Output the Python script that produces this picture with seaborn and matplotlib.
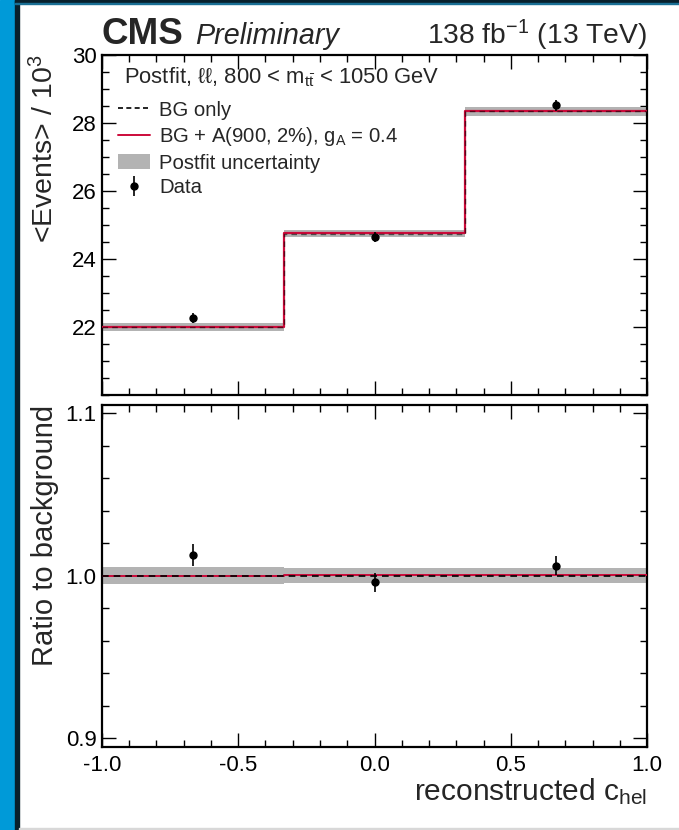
import numpy as np
import matplotlib
matplotlib.use("Agg")
import matplotlib.pyplot as plt
from matplotlib.patches import Patch, Rectangle
from matplotlib.lines import Line2D
from matplotlib.ticker import MultipleLocator, FixedLocator, FormatStrFormatter
import seaborn as sns

# ---- data (events in units of 10^3) ----
bin_edges = [-1.0, -1.0 / 3.0, 1.0 / 3.0, 1.0]
bin_centers = [-2.0 / 3.0, 0.0, 2.0 / 3.0]
bg_only = [22.00, 24.75, 28.35]
bg_plus_signal = [22.00, 24.76, 28.36]
bg_unc = [0.11, 0.11, 0.13]
data_vals = [22.275, 24.65, 28.52]
data_err = [0.15, 0.15, 0.17]

ratio_data = [1.0125, 0.9959, 1.0062]
ratio_err = [0.0067, 0.0060, 0.0060]
ratio_unc = [0.0051, 0.0045, 0.0045]
ratio_signal = [1.0000, 1.0004, 1.0004]

top_yticks = [22, 24, 26, 28, 30]

sns.set_theme(style="ticks")
plt.rcParams["font.family"] = ["Liberation Sans", "DejaVu Sans"]
plt.rcParams["mathtext.fontset"] = "custom"
plt.rcParams["mathtext.rm"] = "Liberation Sans"
plt.rcParams["mathtext.it"] = "Liberation Sans:italic"
plt.rcParams["mathtext.bf"] = "Liberation Sans:bold"

RED = "#cc0a3a"
GREY = "#b3b3b3"

fig = plt.figure(figsize=(6.79, 8.30), dpi=100)
ax_top = fig.add_axes([0.1502, 0.5241, 0.8027, 0.4096])
ax_rat = fig.add_axes([0.1502, 0.1000, 0.8027, 0.4120])


def extend(vals):
    return list(vals) + [vals[-1]]


def step(ax, vals, **kw):
    sns.lineplot(x=bin_edges, y=extend(vals), ax=ax, drawstyle="steps-post",
                 estimator=None, sort=False, **kw)


# ---- main panel ----
lo = [v - u for v, u in zip(bg_only, bg_unc)]
hi = [v + u for v, u in zip(bg_only, bg_unc)]
ax_top.fill_between(bin_edges, extend(lo), extend(hi), step="post",
                    color=GREY, lw=0, zorder=1)
step(ax_top, bg_plus_signal, color=RED, lw=1.6, zorder=3)
step(ax_top, bg_only, color="black", lw=1.0, ls=(0, (4, 3)), alpha=0.55, zorder=4)
ax_top.errorbar(bin_centers, data_vals, yerr=data_err, fmt="o", color="black",
                ms=5, elinewidth=1.2, capsize=0, zorder=5)

ax_top.set_xlim(-1, 1)
ax_top.set_ylim(20, 30)
ax_top.yaxis.set_major_locator(FixedLocator(top_yticks))
ax_top.yaxis.set_minor_locator(MultipleLocator(0.5))
ax_top.tick_params(labelbottom=False)
ax_top.set_ylabel(r"<Events> / 10$^{3}$", fontsize=20.5, loc="top")
ax_top.yaxis.set_label_coords(-0.078, 1.0)

# legend header and entries
ax_top.text(0.040, 0.935, "Postfit, ℓℓ, 800 < m$_{\\mathregular{t\\bar{t}}}$ < 1050 GeV",
            transform=ax_top.transAxes, fontsize=15.8, ha="left", va="center",
            family=["Liberation Sans", "DejaVu Sans"])

handles = [
    Line2D([], [], color="black", lw=1.2, ls=(0, (3, 2))),
    Line2D([], [], color=RED, lw=1.4),
    Patch(facecolor=GREY, edgecolor="none"),
    ax_top.errorbar([], [], yerr=[], fmt="o", color="black", ms=5, elinewidth=1.2),
]
labels = ["BG only", r"BG + A(900, 2%), g$_\mathregular{A}$ = 0.4",
          "Postfit uncertainty", "Data"]
leg = ax_top.legend(handles, labels, loc="upper left", frameon=False,
                    bbox_to_anchor=(0.030, 0.866), fontsize=14.6,
                    handlelength=1.55, handletextpad=0.45, labelspacing=0.27,
                    borderaxespad=0.0, borderpad=0.0)

# ---- ratio panel ----
rlo = [1 - u for u in ratio_unc]
rhi = [1 + u for u in ratio_unc]
ax_rat.fill_between(bin_edges, extend(rlo), extend(rhi), step="post",
                    color=GREY, lw=0, zorder=1)
step(ax_rat, ratio_signal, color=RED, lw=1.4, zorder=3)
step(ax_rat, [1.0, 1.0, 1.0], color="black", lw=1.2, ls=(0, (4, 3)), zorder=4)
ax_rat.errorbar(bin_centers, ratio_data, yerr=ratio_err, fmt="o", color="black",
                ms=5, elinewidth=1.2, capsize=0, zorder=5)

ax_rat.set_xlim(-1, 1)
ax_rat.set_ylim(0.8945, 1.105)
ax_rat.yaxis.set_major_locator(MultipleLocator(0.1))
ax_rat.yaxis.set_minor_locator(MultipleLocator(0.02))
ax_rat.yaxis.set_major_formatter(FormatStrFormatter("%.1f"))
ax_rat.set_ylabel("Ratio to background", fontsize=21, loc="top")
ax_rat.yaxis.set_label_coords(-0.078, 1.0)

for ax in (ax_top, ax_rat):
    ax.xaxis.set_major_locator(MultipleLocator(0.5))
    ax.xaxis.set_minor_locator(MultipleLocator(0.1))
    ax.xaxis.set_major_formatter(FormatStrFormatter("%.1f"))
    ax.tick_params(which="both", direction="in", top=True, right=True,
                   labelsize=16, width=1.0, colors="black", pad=4)
    ax.tick_params(which="major", length=10)
    ax.tick_params(which="minor", length=5)
    for sp in ax.spines.values():
        sp.set_linewidth(1.6)
        sp.set_color("black")
ax_rat.tick_params(axis="x", pad=6)

ax_rat.set_xlabel(r"reconstructed c$_\mathregular{hel}$", fontsize=21.5, loc="right")
ax_rat.xaxis.set_label_coords(1.0, -0.085)

# ---- header ----
fig.text(0.1502, 0.9470, "CMS", fontsize=26.5, fontweight="bold", ha="left", va="baseline")
fig.text(0.287, 0.9470, "Preliminary", fontsize=20.7, style="italic", ha="left", va="baseline")
fig.text(0.9529, 0.9470, r"138 fb$^{-1}$ (13 TeV)", fontsize=20.3, ha="right", va="baseline")

# ---- frame ----
fig.patches.append(Rectangle((0, 0), 15 / 679, 1, transform=fig.transFigure,
                             color="#009ad8", zorder=0))
fig.patches.append(Rectangle((15 / 679, 0), 4 / 679, 1, transform=fig.transFigure,
                             color="#08202c", zorder=0))
fig.patches.append(Rectangle((15 / 679, 1 - 3 / 830), 1, 3 / 830, transform=fig.transFigure,
                             color="#08202c", zorder=0))
fig.patches.append(Rectangle((15 / 679, 1 - 4 / 830), 1, 1 / 830, transform=fig.transFigure,
                             color="#1a6f94", zorder=0))
fig.patches.append(Rectangle((19 / 679, 0), 1, 2 / 830, transform=fig.transFigure,
                             color="#d8d8d8", zorder=0))

fig.savefig("out.png", dpi=100)
